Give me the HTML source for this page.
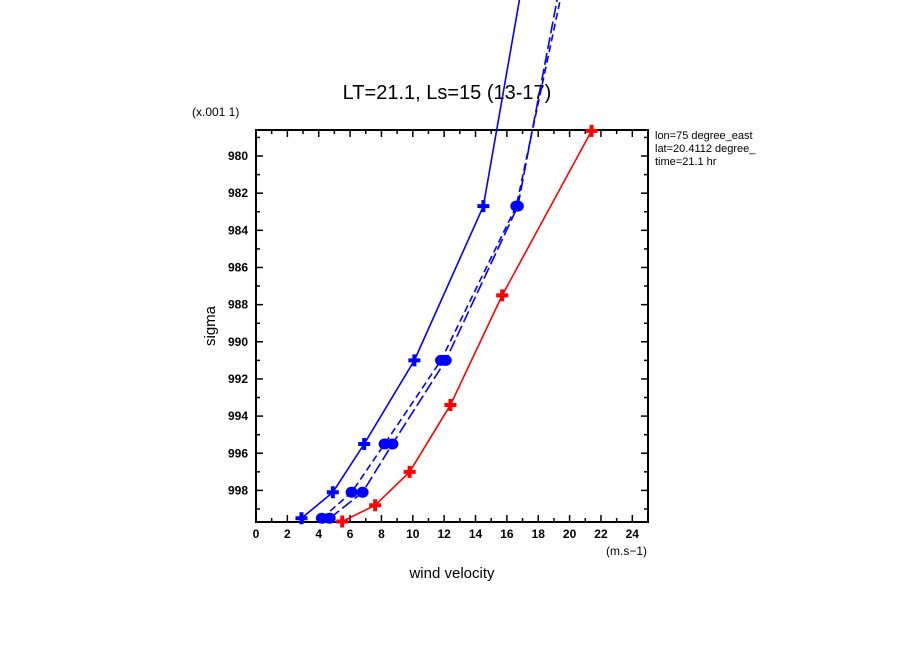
<!DOCTYPE html>
<html><head><meta charset="utf-8"><style>
body{margin:0;background:#fff}
svg{display:block;font-family:"Liberation Sans",sans-serif}
</style></head><body>
<svg id="chart" width="904" height="654" xmlns="http://www.w3.org/2000/svg">
<text x="447" y="99" font-size="20" text-anchor="middle">LT=21.1, Ls=15 (13-17)</text>
<text x="192" y="116" font-size="12">(x.001 1)</text>
<text x="655" y="139" font-size="11">lon=75 degree_east</text>
<text x="655" y="152" font-size="11">lat=20.4112 degree_</text>
<text x="655" y="165" font-size="11">time=21.1 hr</text>
<text x="215" y="326" font-size="15" text-anchor="middle" transform="rotate(-90 215 326)">sigma</text>
<text x="452" y="578" font-size="15" text-anchor="middle">wind velocity</text>
<text x="606" y="555" font-size="12">(m.s−1)</text>
<g id="axes"></g>
<g id="series"></g>
</svg>
<script>
const xTicks=[0,2,4,6,8,10,12,14,16,18,20,22,24];
const yTicks=[980,982,984,986,988,990,992,994,996,998];
const redU=[21.4,15.7,12.4,9.8,7.6,5.5];
const redS=[978.65,987.5,993.4,997.0,998.8,999.67];
const blueU=[2.9,4.9,6.9,10.1,14.5,16.8];
const blueS=[999.5,998.1,995.5,991.0,982.7,971.6];
const dashAU=[4.2,6.1,8.2,11.8,16.6,19.4];
const dashAS=[999.5,998.1,995.5,991.0,982.7,971.6];
const dashBU=[4.7,6.8,8.7,12.1,16.7,19.2];
const dashBS=[999.5,998.1,995.5,991.0,982.7,971.6];
const X0=256,X1=648,Y0=130,Y1=522,XMIN=0,XMAX=25,YMIN=978.6,YMAX=999.7;
const sx=v=>X0+(v-XMIN)/(XMAX-XMIN)*(X1-X0);
const sy=v=>Y0+(v-YMIN)/(YMAX-YMIN)*(Y1-Y0);
const NS="http://www.w3.org/2000/svg";
function mk(tag,attrs,parent){const e=document.createElementNS(NS,tag);for(const k in attrs)e.setAttribute(k,attrs[k]);parent.appendChild(e);return e;}
const ax=document.getElementById('axes');
const frame=mk('rect',{x:X0,y:Y0,width:X1-X0,height:Y1-Y0,fill:'none',stroke:'#000','stroke-width':2},ax);


for(let v=0;v<=25;v++){const x=sx(v);const L=v%2===0?7:4;
 mk('line',{x1:x,x2:x,y1:Y1,y2:Y1-L,stroke:'#000','stroke-width':1.5},ax);
 mk('line',{x1:x,x2:x,y1:Y0,y2:Y0+L,stroke:'#000','stroke-width':1.5},ax);}
xTicks.forEach(v=>{const t=mk('text',{x:sx(v),y:Y1+16,'font-size':12,'text-anchor':'middle','font-weight':'bold'},ax);t.textContent=v;
 
 });
for(let v=979;v<=999;v++){const y=sy(v);const L=v%2===0?7:4;
 mk('line',{x1:X0,x2:X0+L,y1:y,y2:y,stroke:'#000','stroke-width':1.5},ax);
 mk('line',{x1:X1,x2:X1-L,y1:y,y2:y,stroke:'#000','stroke-width':1.5},ax);}
yTicks.forEach(v=>{const t=mk('text',{x:X0-8,y:sy(v)+4,'font-size':12,'text-anchor':'end','font-weight':'bold'},ax);t.textContent=v;
 
 });
const se=document.getElementById('series');
function series(U,S,color,dash,marker,name){
 const g=mk('g',{},se);
 
 
 const pts=U.map((u,i)=>sx(u)+','+sy(S[i])).join(' ');
 const attrs={points:pts,fill:'none',stroke:color,'stroke-width':1.6};
 if(dash)attrs['stroke-dasharray']=dash;
 mk('polyline',attrs,g);
 U.forEach((u,i)=>{const x=sx(u),y=sy(S[i]);if(y<Y0-3)return;
  let m;
  if(marker==='plus'){m=mk('path',{d:`M${x-6},${y}H${x+6}M${x},${y-6}V${y+6}`,stroke:color,'stroke-width':4},g);}
  else{m=mk('ellipse',{cx:x,cy:y,rx:6,ry:5.5,fill:color},g);}
  
  });
}
series(redU,redS,'#ff0000',null,'plus','red-series');
series(blueU,blueS,'#0000ff',null,'plus','blue-solid-series');
series(dashAU,dashAS,'#0000ff','7,4','circle','blue-dashed-series-a');
series(dashBU,dashBS,'#0000ff','12,4','circle','blue-dashed-series-b');
</script>
</body></html>
